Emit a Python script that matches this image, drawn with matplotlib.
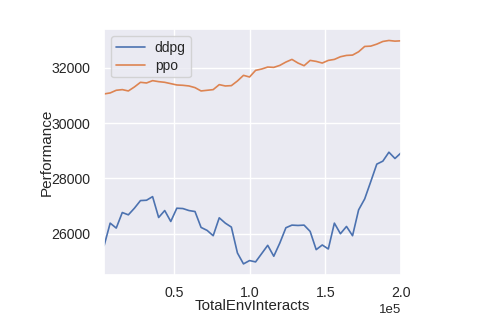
import numpy as np
import matplotlib
matplotlib.use("Agg")
import matplotlib.pyplot as plt
import seaborn as sns

steps = [4000 * i for i in range(1, 51)]
ddpg = [25569, 26383, 26204, 26766, 26683, 26922, 27198, 27210, 27341, 26587,
        26838, 26443, 26922, 26910, 26838, 26802, 26228, 26120, 25928, 26575,
        26383, 26240, 25305, 24910, 25030, 24982, 25281, 25581, 25186, 25665,
        26216, 26311, 26299, 26311, 26084, 25425, 25593, 25449, 26383, 26000,
        26263, 25928, 26862, 27257, 27880, 28515, 28623, 28946, 28719, 28922]
ppo = [31052, 31088, 31184, 31208, 31160, 31304, 31472, 31448, 31532, 31496,
       31472, 31424, 31376, 31364, 31340, 31280, 31160, 31184, 31208, 31388,
       31340, 31352, 31520, 31724, 31664, 31904, 31952, 32024, 32012, 32084,
       32204, 32300, 32168, 32072, 32264, 32228, 32168, 32264, 32300, 32396,
       32444, 32456, 32576, 32768, 32780, 32852, 32948, 32984, 32960, 32972]
series_names = ["ddpg", "ppo"]
x_label = "TotalEnvInteracts"
y_label = "Performance"
y_ticks = [26000, 28000, 30000, 32000]

sns.set_theme(style="darkgrid")
plt.rcParams['font.family'] = ['Liberation Sans', 'DejaVu Sans']

fig = plt.figure(figsize=(4.82, 3.33), dpi=100)
ax = fig.add_axes([0.216, 0.174, 0.616, 0.738])
colors = sns.color_palette("deep")
ax.plot(steps, ddpg, color=colors[0], lw=1.2, label=series_names[0])
ax.plot(steps, ppo, color=colors[1], lw=1.2, label=series_names[1])
ax.set_xlim(steps[0], steps[-1])
ax.set_yticks(y_ticks)
ax.set_xticks([50000, 100000, 150000, 200000])
ax.ticklabel_format(style='sci', axis='x', scilimits=(0, 0))
ax.tick_params(labelsize=10.2, pad=2)
ax.tick_params(axis='y', pad=4)
ax.xaxis.get_offset_text().set_fontsize(9.5)
ax.set_xlabel(x_label, fontsize=10.8, labelpad=-0.5)
ax.set_ylabel(y_label, fontsize=11, labelpad=-1.5)
ax.legend(loc='upper left', fontsize=10, handlelength=2.1, borderpad=0.35,
          labelspacing=0.25, handletextpad=0.7)
fig.savefig("out.png", dpi=100)
